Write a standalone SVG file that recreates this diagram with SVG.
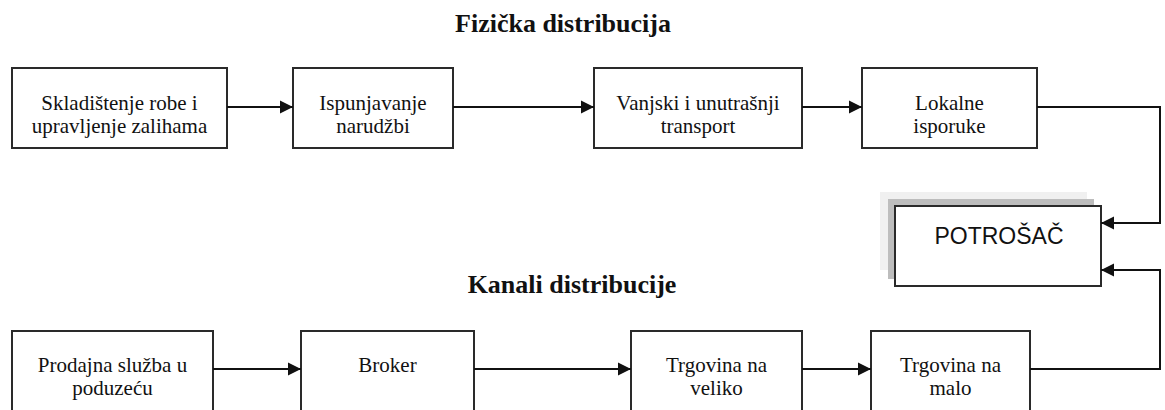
<svg xmlns="http://www.w3.org/2000/svg" width="1165" height="410" viewBox="0 0 1165 410">
<style>
.box{fill:#fff;stroke:#2a2a2a;stroke-width:2}
.t{font-family:"Liberation Serif","Times New Roman",serif;font-size:21px;fill:#111;text-anchor:middle}
.h{font-family:"Liberation Serif","Times New Roman",serif;font-size:26px;font-weight:bold;fill:#111;text-anchor:middle}
.s{font-family:"Liberation Sans",Arial,sans-serif;font-size:23px;fill:#111;text-anchor:middle}
.c{fill:none;stroke:#111;stroke-width:2}
</style>
<defs>
<marker id="ar" markerUnits="userSpaceOnUse" markerWidth="14" markerHeight="14" viewBox="0 0 14 14" refX="13" refY="7" orient="auto">
<path d="M0,0.5 L13,7 L0,13.5 Z" fill="#111"/>
</marker>
</defs>
<rect width="1165" height="410" fill="#fff"/>
<text class="h" x="563" y="32">Fizička distribucija</text>
<text class="h" x="572" y="293">Kanali distribucije</text>

<g id="n1"><rect class="box" x="12" y="68" width="215" height="80"/><text class="t" x="119.5" y="110">Skladištenje robe i</text><text class="t" x="119.5" y="133">upravljenje zalihama</text></g>
<g id="n2"><rect class="box" x="293" y="68" width="160" height="80"/><text class="t" x="373" y="110">Ispunjavanje</text><text class="t" x="373" y="133">narudžbi</text></g>
<g id="n3"><rect class="box" x="594" y="68" width="208" height="80"/><text class="t" x="698" y="110">Vanjski i unutrašnji</text><text class="t" x="698" y="133">transport</text></g>
<g id="n4"><rect class="box" x="862" y="68" width="175" height="80"/><text class="t" x="949.5" y="110">Lokalne</text><text class="t" x="949.5" y="133">isporuke</text></g>

<g id="potrosac">
<rect x="880" y="192" width="207" height="78" fill="#f0f0f0"/>
<rect x="888" y="199" width="206" height="80" fill="#bdbdbd"/>
<rect class="box" x="895" y="206" width="206" height="80"/>
<text class="s" x="999" y="244">POTROŠAČ</text>
</g>

<g id="b1"><rect class="box" x="12" y="331" width="201" height="84"/><text class="t" x="112.5" y="372">Prodajna služba u</text><text class="t" x="112.5" y="395">poduzeću</text></g>
<g id="b2"><rect class="box" x="301" y="331" width="173" height="84"/><text class="t" x="387.5" y="372">Broker</text></g>
<g id="b3"><rect class="box" x="631" y="331" width="171" height="84"/><text class="t" x="716.5" y="372">Trgovina na</text><text class="t" x="716.5" y="395">veliko</text></g>
<g id="b4"><rect class="box" x="871" y="331" width="159" height="84"/><text class="t" x="950.5" y="372">Trgovina na</text><text class="t" x="950.5" y="395">malo</text></g>

<g id="connectors">
<path class="c" d="M227,107 H293" marker-end="url(#ar)"/>
<path class="c" d="M453,107 H594" marker-end="url(#ar)"/>
<path class="c" d="M802,107 H862" marker-end="url(#ar)"/>
<path class="c" d="M1037,107 H1160 V223 H1101" marker-end="url(#ar)"/>
<path class="c" d="M213,369 H301" marker-end="url(#ar)"/>
<path class="c" d="M474,369 H631" marker-end="url(#ar)"/>
<path class="c" d="M802,369 H871" marker-end="url(#ar)"/>
<path class="c" d="M1030,369 H1160 V270 H1101" marker-end="url(#ar)"/>
</g>
</svg>
